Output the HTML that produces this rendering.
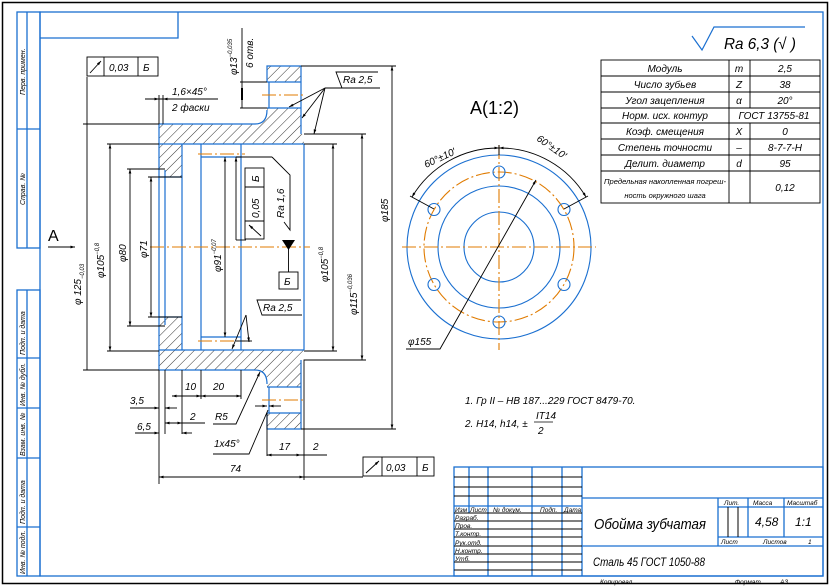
<!DOCTYPE html>
<html><head><meta charset="utf-8"><style>
html,body{margin:0;padding:0;background:#fff}
svg{display:block}
text{font-family:"Liberation Sans","DejaVu Sans",sans-serif;font-style:italic;fill:#000}
</style></head><body>
<svg width="830" height="588" viewBox="0 0 830 588" xmlns="http://www.w3.org/2000/svg">
<defs>
<pattern id="h" width="7" height="7" patternUnits="userSpaceOnUse" patternTransform="rotate(45)">
<line x1="0" y1="0" x2="0" y2="7" stroke="#000" stroke-width="0.8"/></pattern>
<marker id="a" viewBox="0 0 10 10" refX="10" refY="5" markerWidth="7" markerHeight="5" orient="auto-start-reverse"><path d="M0,2 L10,5 L0,8z" fill="#000"/></marker>
</defs>
<rect x="0" y="0" width="830" height="588" fill="#fff"/>
<rect x="2.5" y="2.5" width="825" height="581" fill="none" stroke="#000" stroke-width="1.5"/>
<g stroke="#1a6fd0" stroke-width="1.3" fill="none">
<rect x="40" y="12" width="783" height="564"/>
<polyline points="40,38 178,38 178,12"/>
<rect x="17" y="12" width="23" height="236"/>
<line x1="27" y1="12" x2="27" y2="248"/>
<line x1="17" y1="129" x2="40" y2="129"/>
<rect x="17" y="290" width="23" height="286"/>
<line x1="27" y1="290" x2="27" y2="576"/>
<line x1="17" y1="358" x2="40" y2="358"/>
<line x1="17" y1="408" x2="40" y2="408"/>
<line x1="17" y1="458" x2="40" y2="458"/>
<line x1="17" y1="527" x2="40" y2="527"/>
</g>
<g font-size="7">
<text transform="translate(25,95) rotate(-90)">Перв. примен.</text>
<text transform="translate(25,205) rotate(-90)">Справ. №</text>
<text transform="translate(25,355) rotate(-90)">Подп. и дата</text>
<text transform="translate(25,406) rotate(-90)">Инв. № дубл.</text>
<text transform="translate(25,456) rotate(-90)">Взам. инв. №</text>
<text transform="translate(25,524) rotate(-90)">Подп. и дата</text>
<text transform="translate(25,574) rotate(-90)">Инв. № подл.</text>
</g>

<g fill="url(#h)" stroke="none">
<path d="M267,66 H301 V82 H267z"/>
<path d="M267,108 H301 V134 H304 V144 H159 V124 H255 Q267,124 267,112z"/>
<path d="M159,144 H182 V177 H165 V170 H159z"/>
<path d="M159,350 H304 V360 H301 V387 H267 V380 Q267,370 255,370 H159z"/>
<path d="M267,413 H301 V429 H267z"/>
<path d="M159,317 H182 V350 H159z"/>
</g>
<g stroke="#1a6fd0" stroke-width="1.2" fill="none">
<polyline points="267,82 267,66 301,66 301,134"/>
<line x1="267" y1="82" x2="301" y2="82"/><line x1="267" y1="108" x2="301" y2="108"/>
<line x1="269" y1="82" x2="269" y2="108"/>
<path d="M159,124 H255 Q267,124 267,110"/>
<line x1="159" y1="124" x2="159" y2="370"/>
<line x1="165" y1="170" x2="165" y2="325"/>
<line x1="182" y1="144" x2="182" y2="350"/>
<line x1="201" y1="144" x2="201" y2="350"/>
<line x1="241" y1="144" x2="241" y2="350"/>
<line x1="304" y1="144" x2="304" y2="350"/>
<line x1="159" y1="144" x2="304" y2="144"/>
<line x1="159" y1="350" x2="304" y2="350"/>
<line x1="201" y1="157" x2="241" y2="157"/>
<line x1="201" y1="337" x2="241" y2="337"/>
<line x1="159" y1="177" x2="182" y2="177"/><line x1="159" y1="317" x2="182" y2="317"/>
<path d="M159,370 H255 Q267,370 267,384"/>
<polyline points="267,387 301,387"/><polyline points="267,413 301,413"/>
<line x1="269" y1="387" x2="269" y2="413"/>
<polyline points="267,413 267,429 301,429 301,360"/>
</g>
<g stroke="#e07b00" stroke-width="1" stroke-dasharray="14,3,2,3" fill="none">
<line x1="150" y1="247" x2="310" y2="247"/>
<line x1="262" y1="95" x2="303" y2="95"/>
<line x1="262" y1="400" x2="303" y2="400"/>
<line x1="198" y1="154" x2="245" y2="154"/>
<line x1="198" y1="341" x2="245" y2="341"/>
</g>
<g stroke="#000" stroke-width="0.9" fill="none">
<line x1="83" y1="124" x2="159" y2="124"/>
<line x1="87" y1="77" x2="87" y2="370"/>
<line x1="83" y1="370" x2="159" y2="370"/>
<line x1="107" y1="144" x2="159" y2="144"/><line x1="107" y1="351" x2="159" y2="351"/>
<line x1="110" y1="144" x2="110" y2="351" marker-start="url(#a)" marker-end="url(#a)"/>
<line x1="127" y1="169" x2="165" y2="169"/><line x1="127" y1="326" x2="165" y2="326"/>
<line x1="130" y1="169" x2="130" y2="326" marker-start="url(#a)" marker-end="url(#a)"/>
<line x1="148" y1="177" x2="182" y2="177"/><line x1="148" y1="317" x2="182" y2="317"/>
<line x1="151" y1="177" x2="151" y2="317" marker-start="url(#a)" marker-end="url(#a)"/>
<line x1="225" y1="157" x2="225" y2="337" marker-start="url(#a)" marker-end="url(#a)"/>
<line x1="236" y1="157" x2="236" y2="240" marker-start="url(#a)"/>
<line x1="236" y1="240" x2="246" y2="240"/>
<line x1="304" y1="144" x2="337" y2="144"/><line x1="304" y1="351" x2="337" y2="351"/>
<line x1="333" y1="144" x2="333" y2="351" marker-start="url(#a)" marker-end="url(#a)"/>
<line x1="304" y1="134" x2="366" y2="134"/><line x1="304" y1="360" x2="366" y2="360"/>
<line x1="362" y1="134" x2="362" y2="360" marker-start="url(#a)" marker-end="url(#a)"/>
<line x1="301" y1="66" x2="396" y2="66"/><line x1="301" y1="429" x2="396" y2="429"/>
<line x1="392" y1="66" x2="392" y2="429" marker-start="url(#a)" marker-end="url(#a)"/>
<line x1="240" y1="82" x2="267" y2="82"/><line x1="240" y1="108" x2="267" y2="108"/>
<line x1="242" y1="28" x2="242" y2="108"/>
<line x1="242" y1="88" x2="242" y2="100" stroke-width="2"/>
<line x1="145" y1="99" x2="218" y2="99"/>
<line x1="159" y1="95" x2="159" y2="124"/><line x1="163" y1="95" x2="163" y2="124"/>
<line x1="145" y1="99" x2="159" y2="99" marker-end="url(#a)"/>
<line x1="177" y1="99" x2="163" y2="99" marker-end="url(#a)"/>
<polyline points="380,88 342,88 336,72 378,72"/>
<line x1="325" y1="88" x2="289" y2="107" marker-end="url(#a)"/>
<line x1="325" y1="88" x2="302" y2="118" marker-end="url(#a)"/>
<line x1="325" y1="88" x2="314" y2="134" marker-end="url(#a)"/>
<line x1="325" y1="88" x2="342" y2="88"/>
<polyline points="272,157 290,175 290,230 284,222"/>
<line x1="272" y1="157" x2="236" y2="157"/>
<polyline points="302,315 262,315 257,300 301,300"/>
<line x1="246" y1="315" x2="232" y2="349" marker-end="url(#a)"/>
<line x1="246" y1="315" x2="249" y2="342" marker-end="url(#a)"/>
<line x1="236" y1="341" x2="252" y2="341"/>
<line x1="159" y1="370" x2="159" y2="484"/>
<line x1="165" y1="370" x2="165" y2="434"/>
<line x1="182" y1="370" x2="182" y2="434"/>
<line x1="201" y1="370" x2="201" y2="399"/>
<line x1="241" y1="370" x2="241" y2="399"/>
<line x1="304" y1="360" x2="304" y2="480"/>
<line x1="267" y1="413" x2="267" y2="456"/>
<line x1="172" y1="396" x2="201" y2="396" marker-start="url(#a)" marker-end="url(#a)"/>
<line x1="201" y1="396" x2="241" y2="396" marker-start="url(#a)" marker-end="url(#a)"/>
<line x1="130" y1="408" x2="159" y2="408" marker-end="url(#a)"/>
<line x1="177" y1="408" x2="165" y2="408" marker-end="url(#a)"/>
<line x1="165" y1="423" x2="205" y2="423"/>
<line x1="165" y1="423" x2="182" y2="423" marker-start="url(#a)" marker-end="url(#a)"/>
<line x1="135" y1="433" x2="159" y2="433" marker-end="url(#a)"/>
<line x1="192" y1="433" x2="182" y2="433" marker-end="url(#a)"/>
<line x1="159" y1="477" x2="304" y2="477" marker-start="url(#a)" marker-end="url(#a)"/>
<line x1="304" y1="477" x2="363" y2="477"/>
<line x1="267" y1="455" x2="301" y2="455" marker-start="url(#a)" marker-end="url(#a)"/>
<line x1="301" y1="455" x2="327" y2="455"/>
<line x1="255" y1="406" x2="267" y2="406" marker-end="url(#a)"/>
<line x1="281" y1="406" x2="269" y2="406" marker-end="url(#a)"/>
<polyline points="213,424 236,424 260,372" marker-end="url(#a)"/>
<polyline points="213,454 249,454 268,410"/>
<rect x="87" y="57" width="71" height="19"/>
<line x1="104" y1="57" x2="104" y2="76"/><line x1="138" y1="57" x2="138" y2="76"/>
<line x1="90" y1="73" x2="101" y2="61" marker-end="url(#a)"/>
<rect x="363" y="457" width="71" height="19"/>
<line x1="382" y1="457" x2="382" y2="476"/><line x1="417" y1="457" x2="417" y2="476"/>
<line x1="366" y1="473" x2="379" y2="461" marker-end="url(#a)"/>
<rect x="245" y="168" width="19" height="71"/>
<line x1="245" y1="187" x2="264" y2="187"/><line x1="245" y1="221" x2="264" y2="221"/>
<line x1="249" y1="225" x2="261" y2="236" marker-start="url(#a)"/>
<rect x="279" y="272" width="19" height="17"/>
<line x1="288.5" y1="247" x2="288.5" y2="272"/>
<line x1="48" y1="247" x2="75" y2="247" marker-end="url(#a)"/>
</g>
<path d="M282,240 L295,240 L288.5,250z" fill="#000"/>
<g font-size="10">
<text x="109" y="71">0,03</text><text x="143" y="71">Б</text>
<text x="386" y="471">0,03</text><text x="422" y="471">Б</text>
<text transform="translate(259,218) rotate(-90)">0,05</text>
<text transform="translate(259,182) rotate(-90)">Б</text>
<text x="284" y="285">Б</text>
<text x="172" y="95">1,6×45°</text>
<text x="172" y="111">2 фаски</text>
<text x="343" y="83">Ra 2,5</text>
<text x="263" y="311">Ra 2,5</text>
<text transform="translate(284,218) rotate(-90)">Ra 1,6</text>
<text x="130" y="404">3,5</text>
<text x="137" y="430">6,5</text>
<text x="190" y="420">2</text>
<text x="185" y="390">10</text>
<text x="213" y="390">20</text>
<text x="215" y="420">R5</text>
<text x="214" y="447">1х45°</text>
<text x="279" y="450">17</text>
<text x="313" y="450">2</text>
<text x="230" y="472">74</text>
<text transform="translate(104,278) rotate(-90)">φ105<tspan font-size="6" dy="-5">−0,8</tspan></text>
<text transform="translate(126,262) rotate(-90)">φ80</text>
<text transform="translate(147,258) rotate(-90)">φ71</text>
<text transform="translate(221,272) rotate(-90)">φ91<tspan font-size="6" dy="-5">−0,07</tspan></text>
<text transform="translate(328,282) rotate(-90)">φ105<tspan font-size="6" dy="-5">−0,8</tspan></text>
<text transform="translate(357,315) rotate(-90)">φ115<tspan font-size="6" dy="-5">−0,036</tspan></text>
<text transform="translate(388,222) rotate(-90)">φ185</text>
<text transform="translate(81,305) rotate(-90)">φ 125<tspan font-size="6" dy="3">−0,03</tspan></text>
<text transform="translate(237,75) rotate(-90)">φ13<tspan font-size="6" dy="-5">−0,035</tspan></text>
<text transform="translate(253,68) rotate(-90)">6 отв.</text>
<text x="408" y="345">φ155</text>
<text transform="translate(426,168) rotate(-25)">60°±10′</text>
<text transform="translate(536,140) rotate(35)">60°±10′</text>
<text x="465" y="404">1. Гр II – НВ 187...229 ГОСТ 8479-70.</text>
<text x="465" y="427">2. Н14, h14, ±</text>
<text x="536" y="419">IT14</text><text x="538" y="434">2</text>
</g>
<line x1="534" y1="422" x2="553" y2="422" stroke="#000" stroke-width="0.8"/>
<text x="48" y="241" font-size="16" style="font-style:normal">A</text>
<text x="470" y="114" font-size="18" style="font-style:normal">A(1:2)</text>

<g fill="none" stroke-width="1.1">
<circle cx="499" cy="247" r="92" stroke="#1a6fd0"/>
<circle cx="499" cy="247" r="61" stroke="#1a6fd0"/>
<circle cx="499" cy="247" r="35" stroke="#1a6fd0"/>
<circle cx="499" cy="247" r="75" stroke="#e07b00" stroke-dasharray="14,3,2,3"/>
<g stroke="#1a6fd0">
<circle cx="499" cy="172" r="6"/><circle cx="499" cy="322" r="6"/>
<circle cx="434" cy="209.5" r="6"/><circle cx="564" cy="209.5" r="6"/>
<circle cx="434" cy="284.5" r="6"/><circle cx="564" cy="284.5" r="6"/>
</g>
<g stroke="#e07b00" stroke-dasharray="14,3,2,3">
<line x1="402" y1="247" x2="596" y2="247"/>
<line x1="499" y1="145" x2="499" y2="350"/>
</g>
<g stroke="#000" stroke-width="0.9">
<path d="M412,197 A100,100 0 0 1 499,148" marker-start="url(#a)" marker-end="url(#a)"/>
<path d="M499,148 A100,100 0 0 1 586,197" marker-start="url(#a)" marker-end="url(#a)"/>
<line x1="410" y1="196" x2="434" y2="209"/><line x1="588" y1="196" x2="564" y2="209"/>
<line x1="499" y1="145" x2="499" y2="155"/>
<polyline points="406,349 440,349 536,180" marker-end="url(#a)"/>
</g>
</g>

<polyline points="692,36 702,50 714,27 805,27" fill="none" stroke="#1a6fd0" stroke-width="1.2"/>
<text x="724" y="49" font-size="16" textLength="72" lengthAdjust="spacingAndGlyphs">Ra 6,3 (√ )</text>

<g stroke="#000" stroke-width="0.9" fill="none">
<rect x="601" y="60" width="219" height="143"/>
<line x1="601" y1="76" x2="820" y2="76"/><line x1="601" y1="92" x2="820" y2="92"/>
<line x1="601" y1="108" x2="820" y2="108"/><line x1="601" y1="123" x2="820" y2="123"/>
<line x1="601" y1="139" x2="820" y2="139"/><line x1="601" y1="155" x2="820" y2="155"/>
<line x1="601" y1="171" x2="820" y2="171"/>
<line x1="729" y1="60" x2="729" y2="203"/>
<line x1="750" y1="60" x2="750" y2="108"/><line x1="750" y1="123" x2="750" y2="203"/>
</g>
<g font-size="10" text-anchor="middle">
<text x="665" y="72">Модуль</text><text x="739" y="72">m</text><text x="785" y="72">2,5</text>
<text x="665" y="88">Число зубьев</text><text x="739" y="88">Z</text><text x="785" y="88">38</text>
<text x="665" y="104">Угол зацепления</text><text x="739" y="104">α</text><text x="785" y="104">20°</text>
<text x="665" y="119">Норм. исх. контур</text><text x="774" y="119">ГОСТ 13755-81</text>
<text x="665" y="135">Коэф. смещения</text><text x="739" y="135">X</text><text x="785" y="135">0</text>
<text x="665" y="151">Степень точности</text><text x="739" y="151">–</text><text x="785" y="151">8-7-7-Н</text>
<text x="665" y="167">Делит. диаметр</text><text x="739" y="167">d</text><text x="785" y="167">95</text>
<text x="665" y="184" font-size="7.5" textLength="122" lengthAdjust="spacingAndGlyphs">Предельная накопленная погреш-</text>
<text x="665" y="198" font-size="7.5">ность окружного шага</text>
<text x="785" y="191">0,12</text>
</g>

<g stroke="#1a6fd0" stroke-width="1.3" fill="none">
<rect x="454" y="467" width="369" height="109"/>
<line x1="582" y1="467" x2="582" y2="576"/>
<line x1="582" y1="498" x2="823" y2="498"/>
<line x1="582" y1="546" x2="823" y2="546"/>
<line x1="718" y1="498" x2="718" y2="546"/>
<line x1="718" y1="507" x2="823" y2="507"/>
<line x1="718" y1="537" x2="823" y2="537"/>
<line x1="748" y1="498" x2="748" y2="537"/>
<line x1="784" y1="498" x2="784" y2="537"/>
<line x1="469" y1="467" x2="469" y2="513"/>
<line x1="488" y1="467" x2="488" y2="576"/>
<line x1="532" y1="467" x2="532" y2="576"/>
<line x1="562" y1="467" x2="562" y2="576"/>
<line x1="454" y1="506" x2="582" y2="506"/>
</g>
<g stroke="#000" stroke-width="1" fill="none">
<line x1="454" y1="477" x2="582" y2="477"/><line x1="454" y1="487" x2="582" y2="487"/>
<line x1="454" y1="496" x2="582" y2="496"/><line x1="454" y1="513" x2="582" y2="513"/>
<line x1="454" y1="521" x2="582" y2="521"/><line x1="454" y1="529" x2="582" y2="529"/>
<line x1="454" y1="537" x2="582" y2="537"/><line x1="454" y1="546" x2="582" y2="546"/>
<line x1="454" y1="554" x2="582" y2="554"/><line x1="454" y1="562" x2="582" y2="562"/>
<line x1="454" y1="570" x2="582" y2="570"/>
<line x1="728" y1="507" x2="728" y2="537"/><line x1="738" y1="507" x2="738" y2="537"/>
</g>
<g font-size="6.5">
<text x="455" y="512">Изм</text><text x="470" y="512">Лист</text><text x="493" y="512">№ докум.</text>
<text x="540" y="512">Подп.</text><text x="564" y="512">Дата</text>
<text x="455" y="520">Разраб.</text><text x="455" y="528">Пров.</text><text x="455" y="536">Т.контр.</text>
<text x="455" y="545">Рук.отд.</text><text x="455" y="553">Н.контр.</text><text x="455" y="561">Утб.</text>
<text x="724" y="505">Лит.</text><text x="753" y="505">Масса</text><text x="787" y="505">Масштаб</text>
<text x="721" y="544">Лист</text><text x="763" y="544">Листов</text><text x="808" y="544">1</text>
<text x="600" y="584">Копировал</text><text x="735" y="584">Формат</text><text x="780" y="584">А3</text>
</g>
<text x="594" y="529" font-size="15" textLength="112" lengthAdjust="spacingAndGlyphs">Обойма зубчатая</text>
<text x="593" y="566" font-size="12" textLength="112" lengthAdjust="spacingAndGlyphs">Сталь 45 ГОСТ 1050-88</text>
<text x="755" y="526" font-size="12">4,58</text>
<text x="795" y="526" font-size="12">1:1</text>
</svg>
</body></html>
